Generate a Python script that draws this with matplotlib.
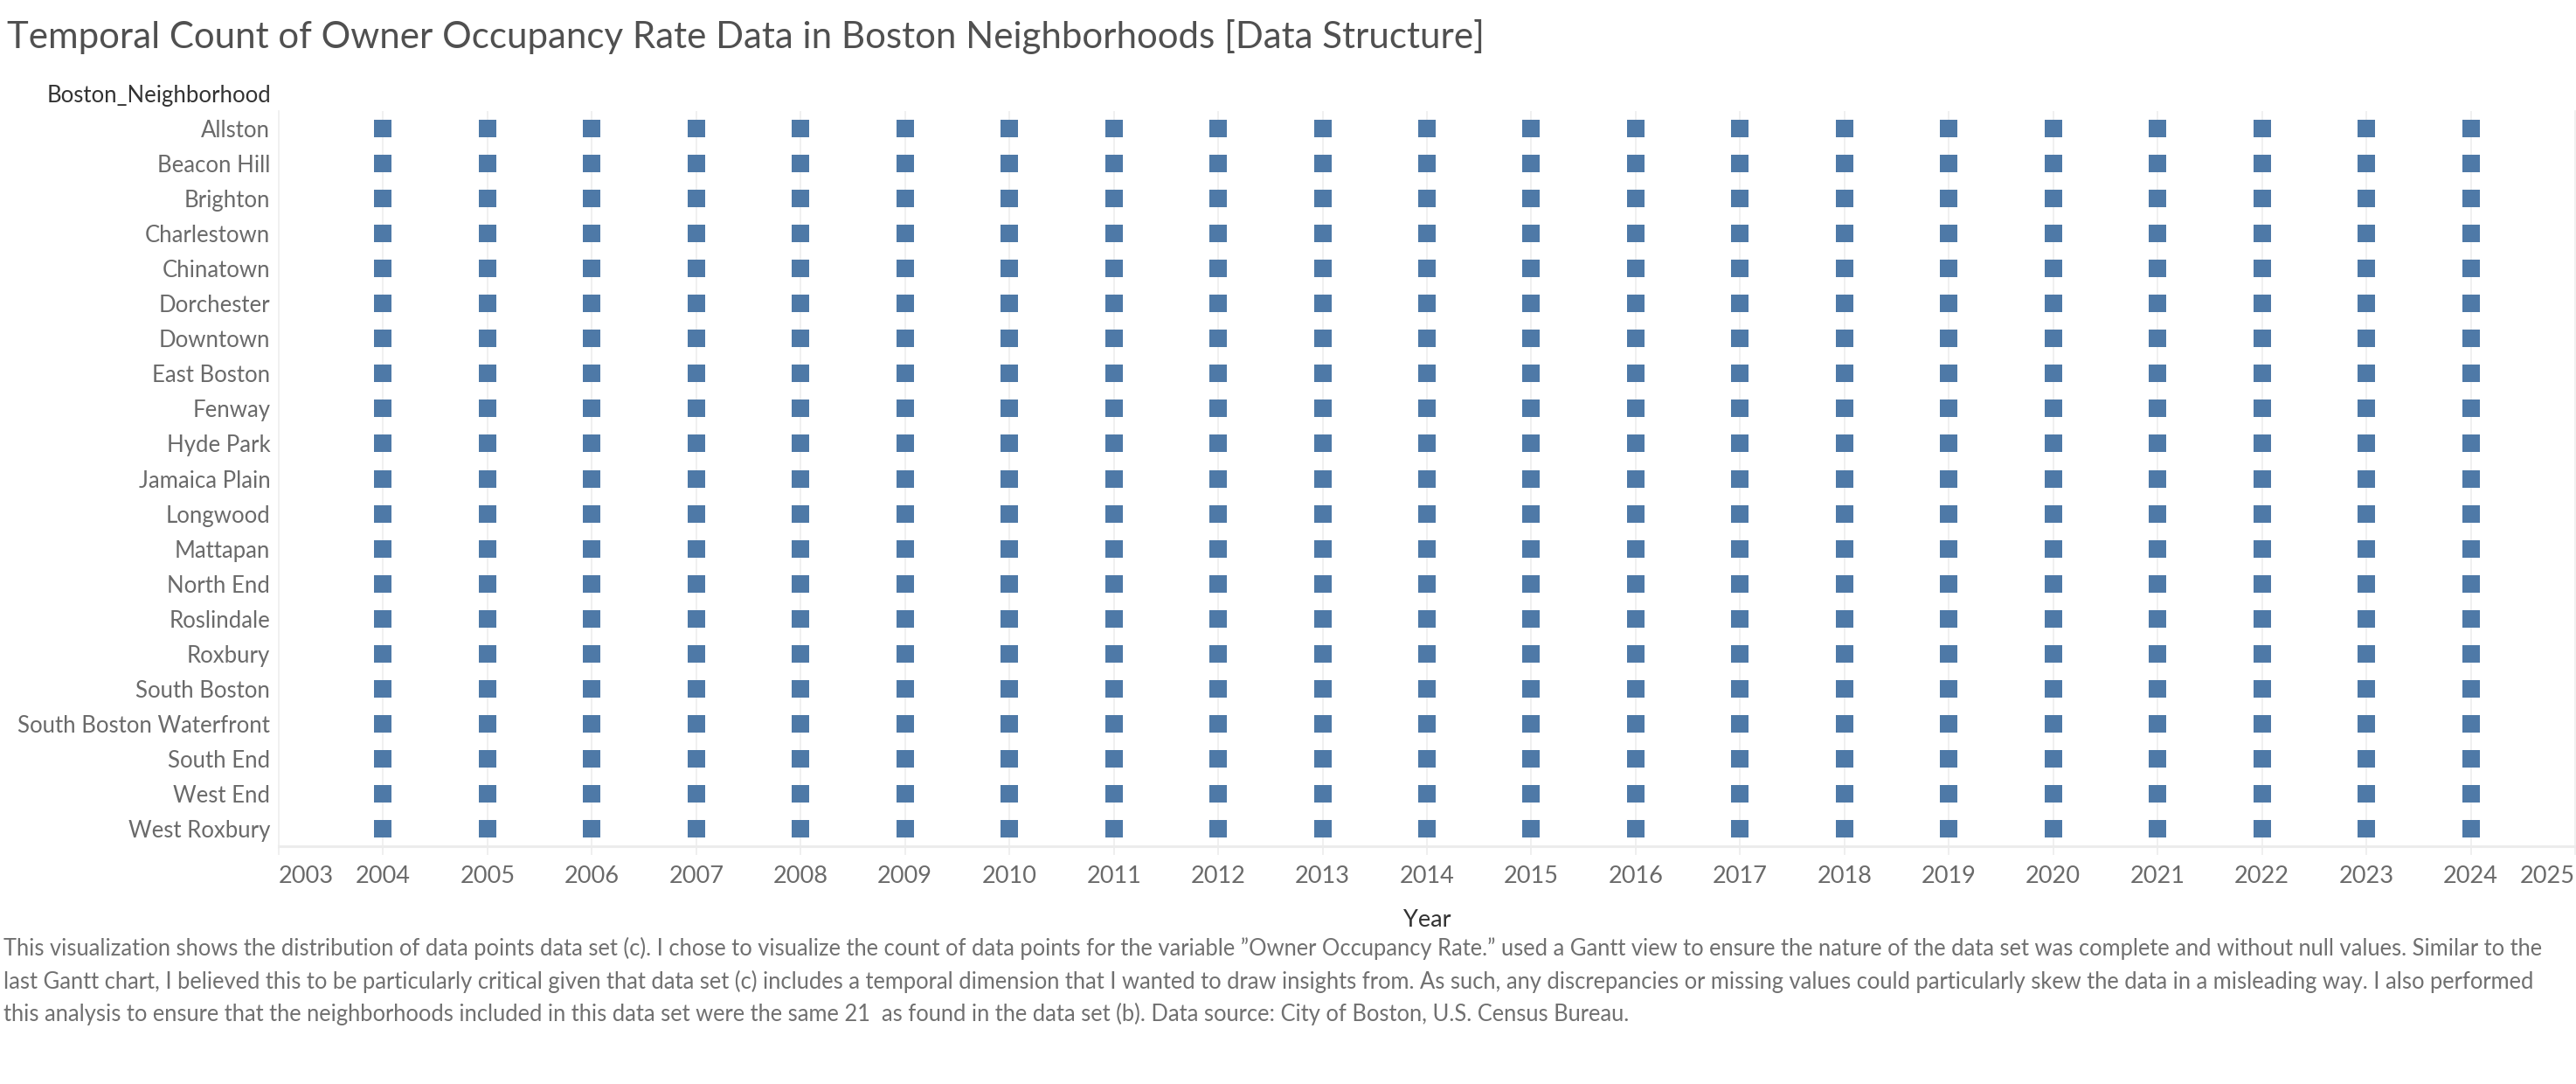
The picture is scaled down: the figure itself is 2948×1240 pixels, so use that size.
import matplotlib
matplotlib.use("Agg")
import matplotlib.pyplot as plt
import numpy as np

neighborhoods = ["Allston", "Beacon Hill", "Brighton", "Charlestown", "Chinatown",
                 "Dorchester", "Downtown", "East Boston", "Fenway", "Hyde Park",
                 "Jamaica Plain", "Longwood", "Mattapan", "North End", "Roslindale",
                 "Roxbury", "South Boston", "South Boston Waterfront", "South End",
                 "West End", "West Roxbury"]
years = [2004, 2005, 2006, 2007, 2008, 2009, 2010, 2011, 2012, 2013, 2014,
         2015, 2016, 2017, 2018, 2019, 2020, 2021, 2022, 2023, 2024]
# count of records per neighborhood per year (all complete: 1 record each)
counts = [[1] * len(years) for _ in neighborhoods]
axis_ticks = [2003, 2004, 2005, 2006, 2007, 2008, 2009, 2010, 2011, 2012, 2013, 2014,
              2015, 2016, 2017, 2018, 2019, 2020, 2021, 2022, 2023, 2024, 2025]

title = "Temporal Count of Owner Occupancy Rate Data in Boston Neighborhoods [Data Structure]"
caption_lines = [
    "This visualization shows the distribution of data points data set (c). I chose to visualize the count of data points for the variable \u201dOwner Occupancy Rate.\u201d used a Gantt view to ensure the nature of the data set was complete and without null values. Similar to the",
    "last Gantt chart, I believed this to be particularly critical given that data set (c) includes a temporal dimension that I wanted to draw insights from. As such, any discrepancies or missing values could particularly skew the data in a misleading way. I also performed",
    "this analysis to ensure that the neighborhoods included in this data set were the same 21  as found in the data set (b). Data source: City of Boston, U.S. Census Bureau.",
]

plt.rcParams['font.family'] = ['Lato', 'DejaVu Sans']

W, H = 2948, 1240
fig = plt.figure(figsize=(W / 100, H / 100), dpi=100)
fig.patch.set_facecolor("white")

ax = fig.add_axes([319 / W, 1 - 968 / H, (2947 - 319) / W, (968 - 127) / H])

xs, ys = [], []
for i, row in enumerate(counts):
    for j, c in enumerate(row):
        if c > 0:
            xs.append(years[j])
            ys.append(i)
ax.scatter(xs, ys, marker="s", s=(20 * 0.72) ** 2, color="#4e79a7", linewidths=0, zorder=3)

ax.set_xlim(2003, 2025)
ax.set_ylim(len(neighborhoods) - 0.5, -0.5)
ax.set_xticks(axis_ticks)
ax.set_xticklabels([str(t) for t in axis_ticks])
ax.set_yticks(range(len(neighborhoods)))
ax.set_yticklabels(neighborhoods)

for xt in axis_ticks:
    ax.axvline(xt, color="#efefef", lw=1.3, zorder=1)

ax.spines["top"].set_visible(False)
ax.spines["bottom"].set_color("#ececec")
ax.spines["bottom"].set_linewidth(2.2)
ax.spines["left"].set_color("#efefef")
ax.spines["left"].set_linewidth(1.2)
ax.spines["right"].set_color("#efefef")
ax.spines["right"].set_linewidth(1.2)

ax.tick_params(axis="x", length=7, width=1.2, color="#ececec", pad=9,
               labelsize=19.5, labelcolor="#6a6a6a")
ax.tick_params(axis="y", length=0, pad=7, labelsize=18.5, labelcolor="#6a6a6a")
xl = ax.get_xticklabels()
xl[0].set_horizontalalignment("left")
xl[-1].set_horizontalalignment("right")

fig.text(310 / W, 1 - 109 / H, "Boston_Neighborhood", ha="right", va="center",
         fontsize=18.5, color="#333333")
fig.text(1633 / W, 1 - 1053 / H, "Year", ha="center", va="center",
         fontsize=19.5, color="#333333")

t = fig.text(8 / W, 1 - 42 / H, title, ha="left", va="center", fontsize=32,
             color="#505050")

cap_texts = []
for k, line in enumerate(caption_lines):
    ct = fig.text(4 / W, 1 - (1085 + k * 37.6) / H, line, ha="left", va="center",
                  fontsize=16, color="#707070")
    cap_texts.append(ct)

# fit widths to the reference layout
fig.canvas.draw()
r = fig.canvas.get_renderer()
tw = t.get_window_extent(r).width
t.set_fontsize(32 * 1693 / tw)
cw = cap_texts[0].get_window_extent(r).width
fs = 16 * 2923 / cw
for ct in cap_texts:
    ct.set_fontsize(fs)

fig.savefig("out.png", dpi=100, facecolor="white")
